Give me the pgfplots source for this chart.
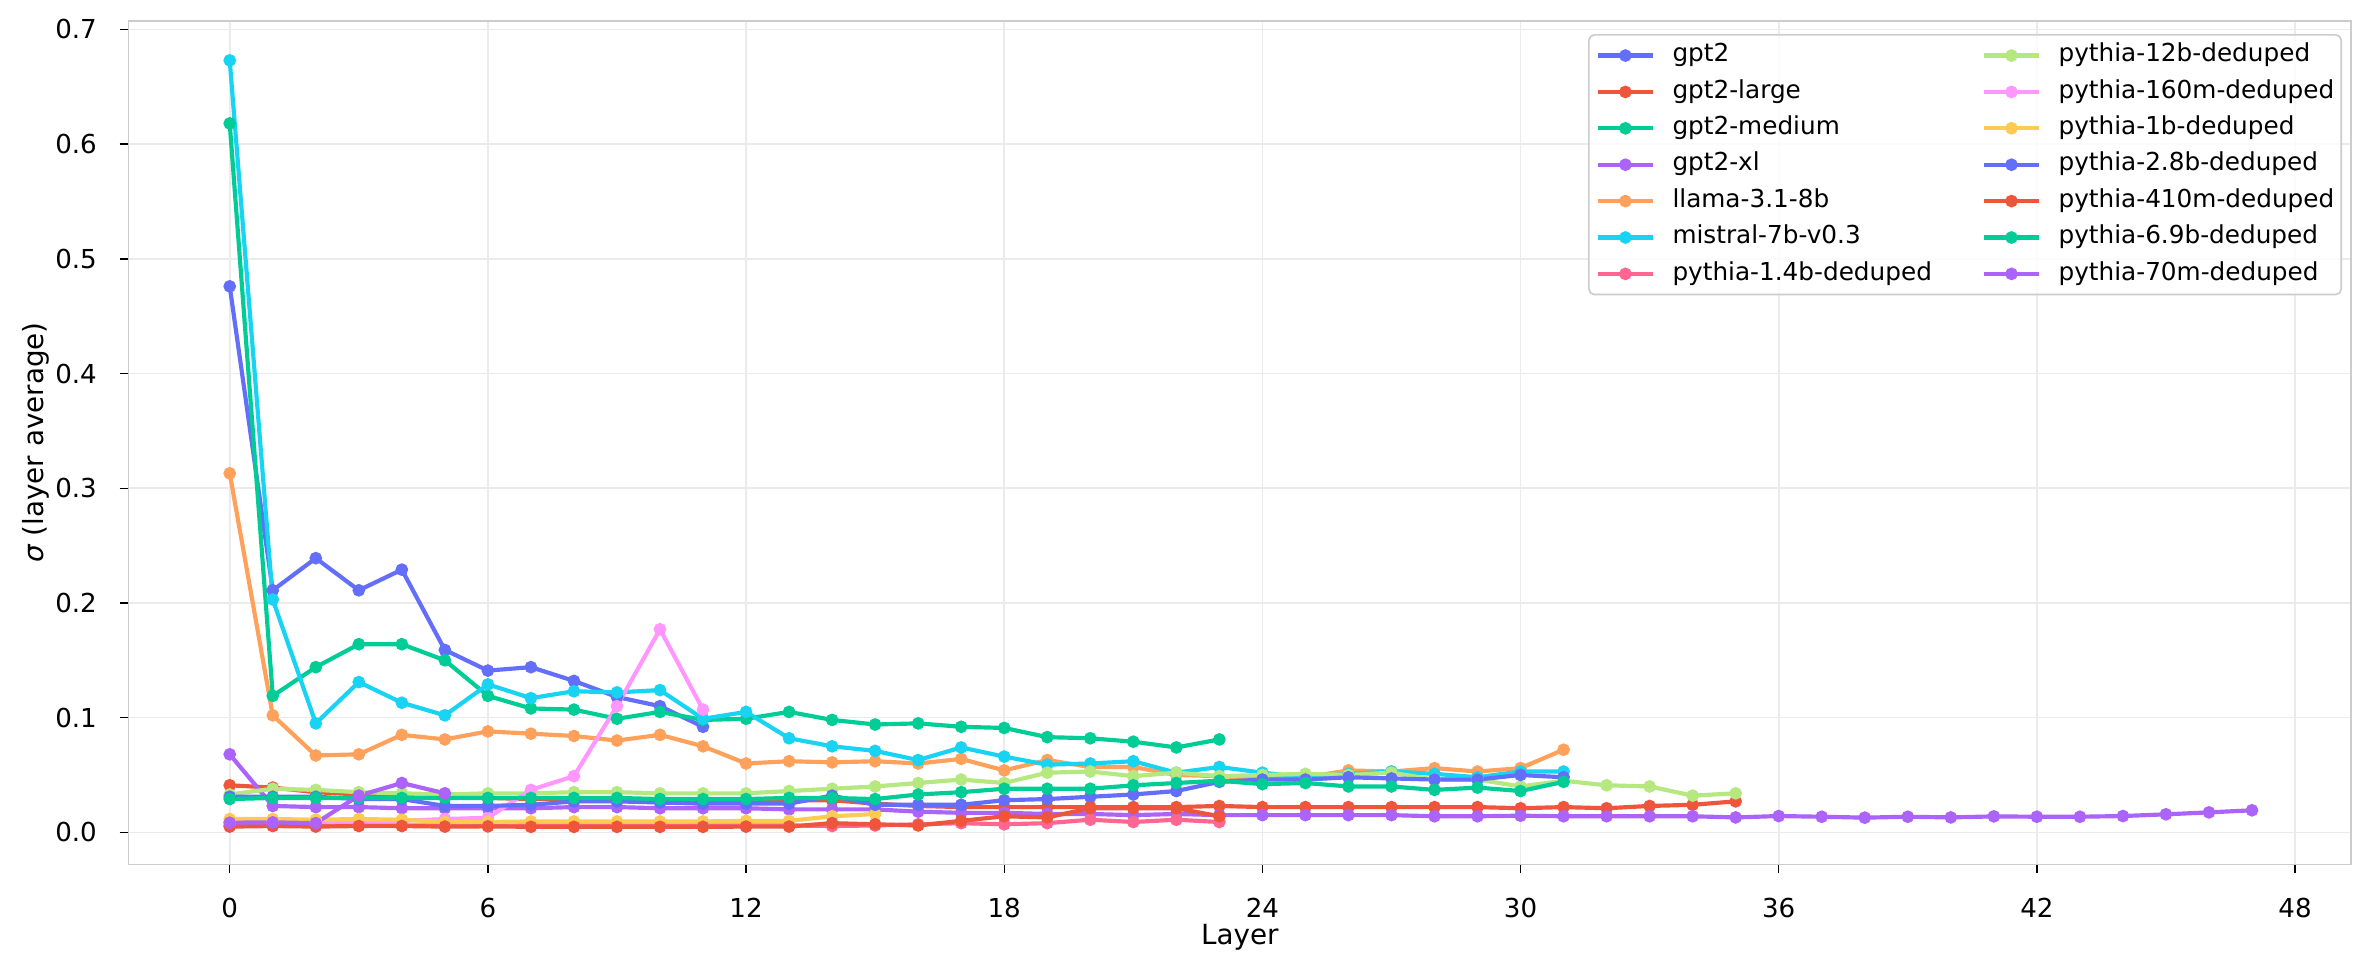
\documentclass[border=0pt]{standalone}
\usepackage{fontspec}
\setmainfont{DejaVu Sans}
\usepackage{pgfplots}
\pgfplotsset{compat=1.18}

\definecolor{cA}{HTML}{636EFA}
\definecolor{cB}{HTML}{EF553B}
\definecolor{cC}{HTML}{00CC96}
\definecolor{cD}{HTML}{AB63FA}
\definecolor{cE}{HTML}{FFA15A}
\definecolor{cF}{HTML}{19D3F3}
\definecolor{cG}{HTML}{FF6692}
\definecolor{cH}{HTML}{B6E880}
\definecolor{cI}{HTML}{FF97FF}
\definecolor{cJ}{HTML}{FECB52}
\definecolor{gridc}{RGB}{235,235,235}
\definecolor{framec}{RGB}{204,204,204}

\pgfplotsset{
  ser/.style={color=#1, line width=1.5pt, mark=*, mark size=1.5pt, mark options={solid,fill=#1,draw=#1}},
}

\begin{document}
\begin{tikzpicture}
\begin{axis}[
  scale only axis,
  width=800pt, height=303.7pt,
  xmin=-2.35, xmax=49.3,
  ymin=-0.0279, ymax=0.7076,
  xtick={0,6,...,48},
  ytick={0,0.1,...,0.7},
  /pgf/number format/assume math mode=true,
  yticklabel style={/pgf/number format/.cd,fixed,fixed zerofill,precision=1},
  ticklabel style={font=\fontsize{9.4}{11}\selectfont},
  xticklabel shift=5.5pt,
  yticklabel shift=4.7pt,
  tick align=outside,
  major tick length=3.2pt,
  tick style={black,line width=0.5pt},
  xtick pos=bottom, ytick pos=left,
  axis line style={framec,line width=0.6pt},
  grid=major,
  major grid style={gridc,line width=0.6pt},
  xlabel={Layer},
  ylabel={{\itshape σ} (layer average)},
  label style={font=\fontsize{9.4}{11}\selectfont},
  every axis x label/.style={at={(axis description cs:0.5,-0.0862)},anchor=center},
  every axis y label/.style={at={(axis description cs:-0.0417,0.5)},rotate=90,anchor=center},
  legend columns=7,
  transpose legend,
  legend cell align=left,
  legend image code/.code={\draw[mark repeat=2,mark phase=2,#1] plot coordinates {(0pt,0pt)(9.9pt,0pt)(19.8pt,0pt)};},
  legend style={
    at={(1,1)}, xshift=-3.2pt, yshift=-4.8pt, anchor=north east,
    draw=framec, line width=0.6pt, rounded corners=2pt,
    fill=white, fill opacity=0.8, text opacity=1, draw opacity=1,
    font=\fontsize{8.9}{10}\selectfont,
    inner xsep=2.5pt, inner ysep=3pt,
    row sep=4.2pt,
    nodes={inner sep=0pt, text height=6.7pt, text depth=2.2pt},
    /tikz/every odd column/.append style={column sep=6.3pt},
    /tikz/every even column/.append style={column sep=18pt},
    /tikz/column 4/.append style={column sep=1.9pt},
  },
]
% gpt2
\addplot[ser=cA] coordinates {(0,0.476)(1,0.211)(2,0.239)(3,0.211)(4,0.229)(5,0.159)(6,0.141)(7,0.144)(8,0.132)(9,0.118)(10,0.110)(11,0.092)};
% gpt2-large
\addplot[ser=cB] coordinates {(0,0.041)(1,0.039)(2,0.035)(3,0.033)(4,0.032)(5,0.031)(6,0.030)(7,0.029)(8,0.029)(9,0.028)(10,0.028)(11,0.028)(12,0.028)(13,0.028)(14,0.028)(15,0.025)(16,0.023)(17,0.022)(18,0.022)(19,0.022)(20,0.022)(21,0.022)(22,0.022)(23,0.023)(24,0.022)(25,0.022)(26,0.022)(27,0.022)(28,0.022)(29,0.022)(30,0.021)(31,0.022)(32,0.021)(33,0.023)(34,0.024)(35,0.027)};
% gpt2-medium
\addplot[ser=cC] coordinates {(0,0.618)(1,0.119)(2,0.144)(3,0.164)(4,0.164)(5,0.150)(6,0.119)(7,0.108)(8,0.107)(9,0.099)(10,0.105)(11,0.098)(12,0.099)(13,0.105)(14,0.098)(15,0.094)(16,0.095)(17,0.092)(18,0.091)(19,0.083)(20,0.082)(21,0.079)(22,0.074)(23,0.081)};
% gpt2-xl
\addplot[ser=cD] coordinates {(0,0.068)(1,0.023)(2,0.022)(3,0.022)(4,0.021)(5,0.021)(6,0.021)(7,0.021)(8,0.022)(9,0.022)(10,0.021)(11,0.021)(12,0.021)(13,0.020)(14,0.020)(15,0.020)(16,0.018)(17,0.017)(18,0.017)(19,0.016)(20,0.016)(21,0.015)(22,0.016)(23,0.015)(24,0.015)(25,0.015)(26,0.015)(27,0.015)(28,0.014)(29,0.014)(30,0.0145)(31,0.014)(32,0.014)(33,0.014)(34,0.014)(35,0.013)(36,0.0142)(37,0.0136)(38,0.0128)(39,0.0136)(40,0.0130)(41,0.0139)(42,0.0136)(43,0.0136)(44,0.0142)(45,0.0157)(46,0.0174)(47,0.0192)};
% llama-3.1-8b
\addplot[ser=cE] coordinates {(0,0.313)(1,0.102)(2,0.067)(3,0.068)(4,0.085)(5,0.081)(6,0.088)(7,0.086)(8,0.084)(9,0.080)(10,0.085)(11,0.075)(12,0.060)(13,0.062)(14,0.061)(15,0.062)(16,0.060)(17,0.064)(18,0.054)(19,0.063)(20,0.057)(21,0.057)(22,0.050)(23,0.049)(24,0.047)(25,0.048)(26,0.054)(27,0.053)(28,0.056)(29,0.053)(30,0.056)(31,0.072)};
% mistral-7b-v0.3
\addplot[ser=cF] coordinates {(0,0.673)(1,0.203)(2,0.095)(3,0.131)(4,0.113)(5,0.102)(6,0.129)(7,0.117)(8,0.123)(9,0.122)(10,0.124)(11,0.099)(12,0.105)(13,0.082)(14,0.075)(15,0.071)(16,0.063)(17,0.074)(18,0.066)(19,0.059)(20,0.060)(21,0.062)(22,0.052)(23,0.057)(24,0.052)(25,0.048)(26,0.051)(27,0.053)(28,0.051)(29,0.048)(30,0.053)(31,0.053)};
% pythia-1.4b-deduped
\addplot[ser=cG] coordinates {(0,0.006)(1,0.006)(2,0.006)(3,0.006)(4,0.006)(5,0.006)(6,0.006)(7,0.006)(8,0.006)(9,0.006)(10,0.006)(11,0.006)(12,0.006)(13,0.006)(14,0.0055)(15,0.006)(16,0.007)(17,0.008)(18,0.007)(19,0.008)(20,0.011)(21,0.009)(22,0.011)(23,0.009)};
% pythia-12b-deduped
\addplot[ser=cH] coordinates {(0,0.033)(1,0.038)(2,0.037)(3,0.035)(4,0.034)(5,0.033)(6,0.034)(7,0.034)(8,0.035)(9,0.035)(10,0.034)(11,0.034)(12,0.034)(13,0.036)(14,0.038)(15,0.040)(16,0.043)(17,0.046)(18,0.043)(19,0.052)(20,0.053)(21,0.049)(22,0.052)(23,0.049)(24,0.050)(25,0.051)(26,0.050)(27,0.052)(28,0.046)(29,0.046)(30,0.040)(31,0.045)(32,0.041)(33,0.040)(34,0.032)(35,0.034)};
% pythia-160m-deduped
\addplot[ser=cI] coordinates {(0,0.009)(1,0.009)(2,0.009)(3,0.010)(4,0.010)(5,0.0116)(6,0.0127)(7,0.037)(8,0.049)(9,0.110)(10,0.177)(11,0.107)};
% pythia-1b-deduped
\addplot[ser=cJ] coordinates {(0,0.0116)(1,0.0116)(2,0.011)(3,0.0116)(4,0.011)(5,0.009)(6,0.009)(7,0.0095)(8,0.0095)(9,0.0095)(10,0.0095)(11,0.0095)(12,0.010)(13,0.010)(14,0.014)(15,0.016)};
% pythia-2.8b-deduped
\addplot[ser=cA] coordinates {(0,0.031)(1,0.031)(2,0.031)(3,0.029)(4,0.029)(5,0.023)(6,0.023)(7,0.024)(8,0.027)(9,0.027)(10,0.026)(11,0.025)(12,0.025)(13,0.025)(14,0.032)(15,0.024)(16,0.024)(17,0.024)(18,0.028)(19,0.029)(20,0.031)(21,0.033)(22,0.036)(23,0.044)(24,0.046)(25,0.046)(26,0.048)(27,0.047)(28,0.046)(29,0.046)(30,0.050)(31,0.048)};
% pythia-410m-deduped
\addplot[ser=cB] coordinates {(0,0.005)(1,0.0055)(2,0.005)(3,0.0055)(4,0.0055)(5,0.005)(6,0.0052)(7,0.0048)(8,0.0048)(9,0.0048)(10,0.0048)(11,0.0048)(12,0.005)(13,0.005)(14,0.008)(15,0.007)(16,0.006)(17,0.010)(18,0.014)(19,0.013)(20,0.021)(21,0.021)(22,0.021)(23,0.014)};
% pythia-6.9b-deduped
\addplot[ser=cC] coordinates {(0,0.029)(1,0.030)(2,0.030)(3,0.030)(4,0.030)(5,0.030)(6,0.030)(7,0.030)(8,0.030)(9,0.030)(10,0.029)(11,0.029)(12,0.029)(13,0.030)(14,0.030)(15,0.029)(16,0.033)(17,0.035)(18,0.038)(19,0.038)(20,0.038)(21,0.041)(22,0.043)(23,0.045)(24,0.042)(25,0.043)(26,0.040)(27,0.040)(28,0.037)(29,0.039)(30,0.036)(31,0.044)};
% pythia-70m-deduped
\addplot[ser=cD] coordinates {(0,0.0084)(1,0.0087)(2,0.008)(3,0.032)(4,0.043)(5,0.034)};
\legend{gpt2,gpt2-large,gpt2-medium,gpt2-xl,llama-3.1-8b,mistral-7b-v0.3,pythia-1.4b-deduped,pythia-12b-deduped,pythia-160m-deduped,pythia-1b-deduped,pythia-2.8b-deduped,pythia-410m-deduped,pythia-6.9b-deduped,pythia-70m-deduped}
\end{axis}
\pgfresetboundingbox
\path ([xshift=-46.3pt,yshift=-39.1pt]current axis.south west) rectangle ([xshift=8.3pt,yshift=7.45pt]current axis.north east);
\end{tikzpicture}
\end{document}
